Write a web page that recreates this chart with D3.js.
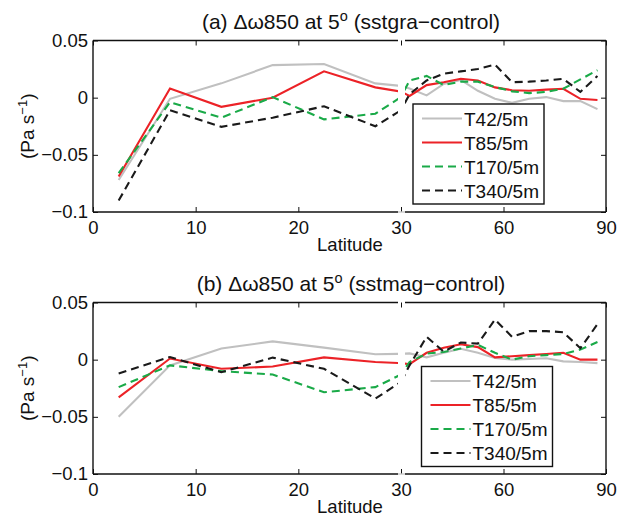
<!DOCTYPE html>
<html>
<head>
<meta charset="utf-8">
<script src="https://cdn.jsdelivr.net/npm/d3@7"></script>
<style>
  body { margin: 0; background: #fff; }
  text { font-family: "Liberation Sans", Arial, Helvetica, sans-serif; fill: #111; }
</style>
</head>
<body>
<svg id="chart" width="630" height="521"></svg>
<script>
// latitude bins (deg)
var lats = [2.5, 7.5, 12.5, 17.5, 22.5, 27.5, 32.5, 37.5, 42.5, 47.5, 52.5, 57.5, 62.5, 67.5, 72.5, 77.5, 82.5, 87.5];
var seriesNames = ['T42/5m', 'T85/5m', 'T170/5m', 'T340/5m'];

// (a) sstgra - control
var graT42  = [-0.072, -0.001, 0.0125, 0.0285, 0.0295, 0.0125, 0.008, 0.002, 0.012, 0.0155, 0.006, -0.001, -0.0045, -0.001, 0.0005, -0.003, -0.003, -0.010];
var graT85  = [-0.069, 0.008, -0.008, 0.000, 0.023, 0.009, 0.0015, 0.011, 0.0135, 0.0165, 0.015, 0.009, 0.0065, 0.006, 0.007, 0.0078, -0.001, -0.002];
var graT170 = [-0.066, -0.004, -0.0175, 0.0005, -0.019, -0.014, 0.015, 0.019, 0.011, 0.014, 0.014, 0.0093, 0.0055, 0.004, 0.005, 0.0078, 0.016, 0.024];
var graT340 = [-0.090, -0.011, -0.0255, -0.0175, -0.0075, -0.025, 0.003, 0.015, 0.021, 0.023, 0.025, 0.029, 0.0135, 0.014, 0.015, 0.0165, 0.005, 0.019];

// (b) sstmag - control
var magT42  = [-0.050, -0.005, 0.0097, 0.016, 0.0105, 0.0047, 0.0055, 0.002, 0.006, 0.0095, 0.006, 0.0015, 0.0, 0.0006, 0.0012, -0.0015, -0.002, -0.003];
var magT85  = [-0.033, 0.001, -0.008, -0.006, 0.002, -0.002, -0.004, 0.006, 0.0105, 0.0135, 0.011, 0.002, 0.003, 0.004, 0.005, 0.006, 0.0, 0.0];
var magT170 = [-0.024, -0.005, -0.010, -0.013, -0.0285, -0.024, -0.002, 0.0053, 0.0067, 0.0097, 0.013, 0.006, 0.0, 0.003, 0.004, 0.005, 0.0088, 0.0155];
var magT340 = [-0.012, 0.0023, -0.011, 0.0018, -0.008, -0.034, -0.005, 0.020, 0.007, 0.015, 0.014, 0.035, 0.020, 0.025, 0.025, 0.024, 0.010, 0.031];

var yTicks = [0.05, 0, -0.05, -0.1];
var xTicksLeft = [0, 10, 20, 30];
var xTicksRight = [60, 90];

var colors = ['#c0c0c0', '#ec2227', '#1aaa48', '#1a1a1a'];
var dashes = [null, null, '8,5', '8,5'];

var svg = d3.select('#chart');
var L = 93, MID = 401, R = 606, GAP0 = 398, GAP1 = 405, H = 171.5;

var xl = d3.scaleLinear().domain([0, 30]).range([L, MID]);
var xr = d3.scaleLinear().domain([30, 90]).range([MID, R]);

function fmt(v) { return v === 0 ? '0' : String(v).replace('-', '\u2212'); }

function drawPanel(id, top, label, runName, data, legendX, legendY) {
  var y = d3.scaleLinear().domain([-0.1, 0.05]).range([top + H, top]);
  var bottom = top + H;
  var g = svg.append('g');

  // clip regions for the two axes pieces
  var defs = svg.append('defs');
  defs.append('clipPath').attr('id', id + 'L').append('rect')
    .attr('x', L).attr('y', top).attr('width', GAP0 - L).attr('height', H);
  defs.append('clipPath').attr('id', id + 'R').append('rect')
    .attr('x', GAP1).attr('y', top).attr('width', R - GAP1).attr('height', H);

  // axes ticks (inside)
  g.append('g').attr('transform', 'translate(' + L + ',0)')
    .call(d3.axisLeft(y).tickValues(yTicks).tickSizeInner(-5).tickSizeOuter(0).tickPadding(5).tickFormat(fmt));
  g.append('g').attr('transform', 'translate(' + R + ',0)')
    .call(d3.axisRight(y).tickValues(yTicks).tickSizeInner(-5).tickSizeOuter(0).tickFormat(''));
  g.append('g').attr('transform', 'translate(0,' + bottom + ')')
    .call(d3.axisBottom(xl).tickValues(xTicksLeft).tickSizeInner(-5).tickSizeOuter(0).tickPadding(9).tickFormat(d3.format('d')));
  g.append('g').attr('transform', 'translate(0,' + bottom + ')')
    .call(d3.axisBottom(xr).tickValues(xTicksRight).tickSizeInner(-5).tickSizeOuter(0).tickPadding(9).tickFormat(d3.format('d')));
  g.append('g').attr('transform', 'translate(0,' + top + ')')
    .call(d3.axisTop(xl).tickValues(xTicksLeft).tickSizeInner(-5).tickSizeOuter(0).tickFormat(''));
  g.append('g').attr('transform', 'translate(0,' + top + ')')
    .call(d3.axisTop(xr).tickValues(xTicksRight).tickSizeInner(-5).tickSizeOuter(0).tickFormat(''));
  g.selectAll('.domain').remove();
  g.selectAll('.tick line').attr('stroke', '#111').attr('stroke-width', 1);
  g.selectAll('.tick text').style('font-size', '18.5px').attr('fill', '#111');

  // lines
  [[xl, id + 'L'], [xr, id + 'R']].forEach(function (p) {
    var xs = p[0];
    var line = d3.line().x(function (d) { return xs(d[0]); }).y(function (d) { return y(d[1]); });
    var lg = g.append('g').attr('clip-path', 'url(#' + p[1] + ')');
    data.forEach(function (vals, i) {
      lg.append('path')
        .datum(lats.map(function (la, k) { return [la, vals[k]]; }))
        .attr('d', line)
        .attr('fill', 'none')
        .attr('stroke', colors[i])
        .attr('stroke-width', 2.1)
        .attr('stroke-dasharray', dashes[i]);
    });
  });

  // frame, broken at 30
  var fr = g.append('g').attr('stroke', '#111').attr('stroke-width', 1.4).attr('fill', 'none');
  fr.append('line').attr('x1', L).attr('x2', L).attr('y1', top).attr('y2', bottom);
  fr.append('line').attr('x1', R).attr('x2', R).attr('y1', top).attr('y2', bottom);
  fr.append('line').attr('x1', L).attr('x2', GAP0).attr('y1', top).attr('y2', top);
  fr.append('line').attr('x1', GAP1).attr('x2', R).attr('y1', top).attr('y2', top);
  fr.append('line').attr('x1', L).attr('x2', GAP0).attr('y1', bottom).attr('y2', bottom);
  fr.append('line').attr('x1', GAP1).attr('x2', R).attr('y1', bottom).attr('y2', bottom);
  g.append('line').attr('x1', GAP0).attr('x2', GAP1).attr('y1', bottom).attr('y2', bottom)
    .attr('stroke', '#c8c8c8').attr('stroke-width', 1.4);

  // title
  var t = g.append('text').attr('x', 351).attr('y', top - 12)
    .attr('text-anchor', 'middle').style('font-size', '21px');
  t.append('tspan').text('(' + label + ') \u0394\u03c9850 at 5');
  t.append('tspan').attr('dy', -8).style('font-size', '14.5px').text('o');
  t.append('tspan').attr('dy', 8).text(' (' + runName + '\u2212control)');

  // x label
  g.append('text').attr('x', 350).attr('y', bottom + 39)
    .attr('text-anchor', 'middle').style('font-size', '18.5px').text('Latitude');

  // y label
  var yl = g.append('text')
    .attr('transform', 'translate(34,' + (top + H / 2) + ') rotate(-90)')
    .attr('text-anchor', 'middle').style('font-size', '19px');
  yl.append('tspan').text('(Pa s');
  yl.append('tspan').attr('dy', -7).style('font-size', '13px').text('\u22121');
  yl.append('tspan').attr('dy', 7).text(')');

  // legend
  var lg = g.append('g').attr('transform', 'translate(' + legendX + ',' + legendY + ')');
  lg.append('rect').attr('width', 131).attr('height', 100)
    .attr('fill', '#fff').attr('stroke', '#111').attr('stroke-width', 1.4);
  seriesNames.forEach(function (name, i) {
    var yy = 14.5 + i * 24;
    lg.append('line').attr('x1', 9).attr('x2', 49).attr('y1', yy).attr('y2', yy)
      .attr('stroke', colors[i]).attr('stroke-width', 2.1).attr('stroke-dasharray', dashes[i]);
    lg.append('text').attr('x', 51).attr('y', yy + 7).style('font-size', '19px').text(name);
  });
}

drawPanel('pa', 40.5, 'a', 'sstgra', [graT42, graT85, graT170, graT340], 413, 104);
drawPanel('pb', 302.5, 'b', 'sstmag', [magT42, magT85, magT170, magT340], 421.5, 366.5);
</script>
</body>
</html>
